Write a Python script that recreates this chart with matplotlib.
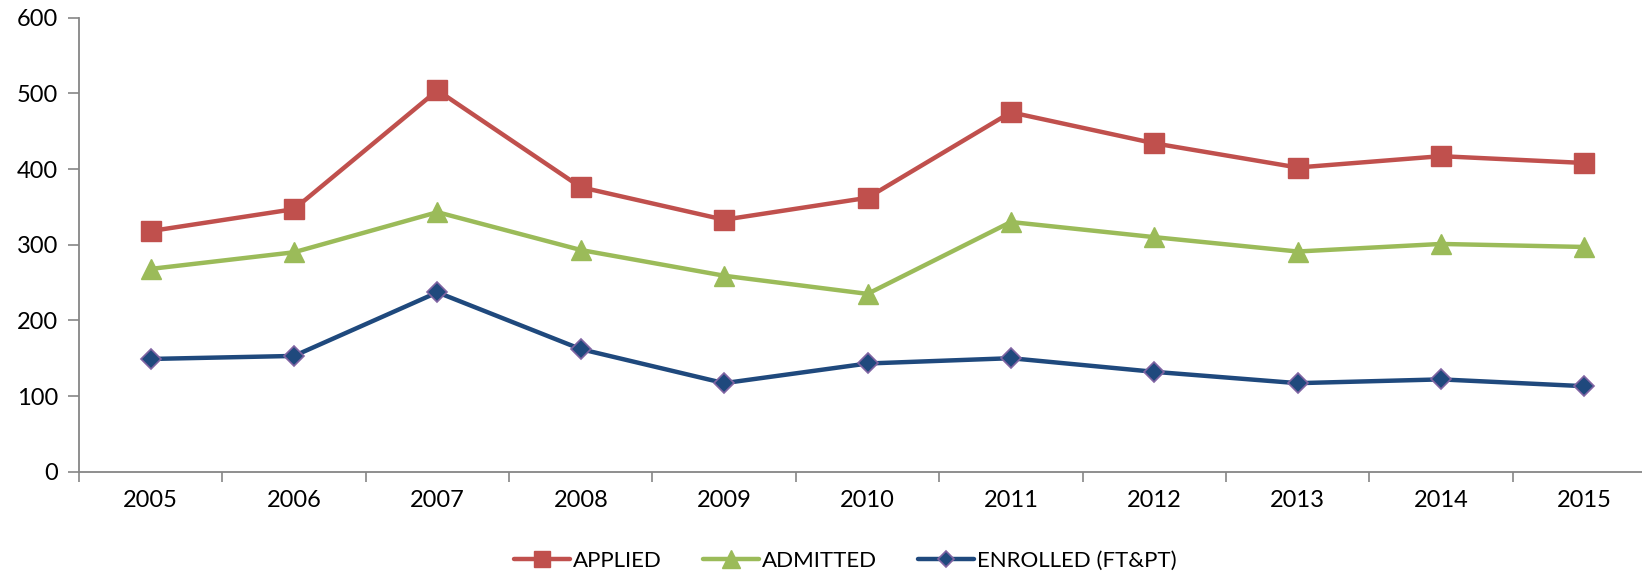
import matplotlib
matplotlib.use("Agg")
import matplotlib.pyplot as plt
import numpy as np

years = ["2005", "2006", "2007", "2008", "2009", "2010", "2011", "2012", "2013", "2014", "2015"]
applied = [318, 347, 504, 376, 333, 362, 475, 434, 402, 417, 408]
admitted = [268, 290, 343, 293, 259, 235, 330, 310, 291, 301, 297]
enrolled = [149, 153, 237, 162, 117, 143, 150, 132, 117, 122, 113]
series_names = ["APPLIED", "ADMITTED", "ENROLLED (FT&PT)"]

plt.rcParams['font.family'] = ['Lato', 'DejaVu Sans']

W, H = 1642, 578
fig = plt.figure(figsize=(W / 100, H / 100), dpi=100)
left = 79 / W
right = 1656 / W
bottom = 1 - 471.7 / H
top = 1 - 17.7 / H
ax = fig.add_axes([left, bottom, right - left, top - bottom])

x = np.arange(len(years))
ax.plot(x, applied, color="#C0504D", lw=3.2, marker="s", ms=14, mfc="#C0504D", mec="#C0504D",
        label=series_names[0], solid_capstyle="round")
ax.plot(x, admitted, color="#9BBB59", lw=3.2, marker="^", ms=15, mfc="#9BBB59", mec="#9BBB59",
        label=series_names[1], solid_capstyle="round")
ax.plot(x, enrolled, color="#1F497D", lw=3.2, marker="D", ms=10, mfc="#1F497D", mec="#8064A2",
        mew=1.2, label=series_names[2], solid_capstyle="round")

ax.set_xlim(-0.5, len(years) - 0.5)
ax.set_ylim(0, 600)
ax.set_yticks(range(0, 601, 100))
ax.set_xticks(x)
ax.set_xticklabels(years)
ax.set_xticks(np.arange(-0.5, len(years), 1.0), minor=True)
ax.tick_params(axis="x", which="major", length=0, pad=13, labelsize=17)
ax.tick_params(axis="x", which="minor", length=7, width=1.2, color="#868686", direction="out")
ax.tick_params(axis="y", length=8, width=1.2, color="#868686", labelsize=17, pad=7)
for s in ["top", "right"]:
    ax.spines[s].set_visible(False)
for s in ["left", "bottom"]:
    ax.spines[s].set_color("#868686")
    ax.spines[s].set_linewidth(1.3)

leg = fig.legend(loc="center", bbox_to_anchor=(0.515, 1 - 561 / H), ncol=3, frameon=False,
                 fontsize=16, handlelength=2.5, handletextpad=0.15, columnspacing=1.85,
                 markerscale=0.85)

fig.savefig("out.png", dpi=100)
